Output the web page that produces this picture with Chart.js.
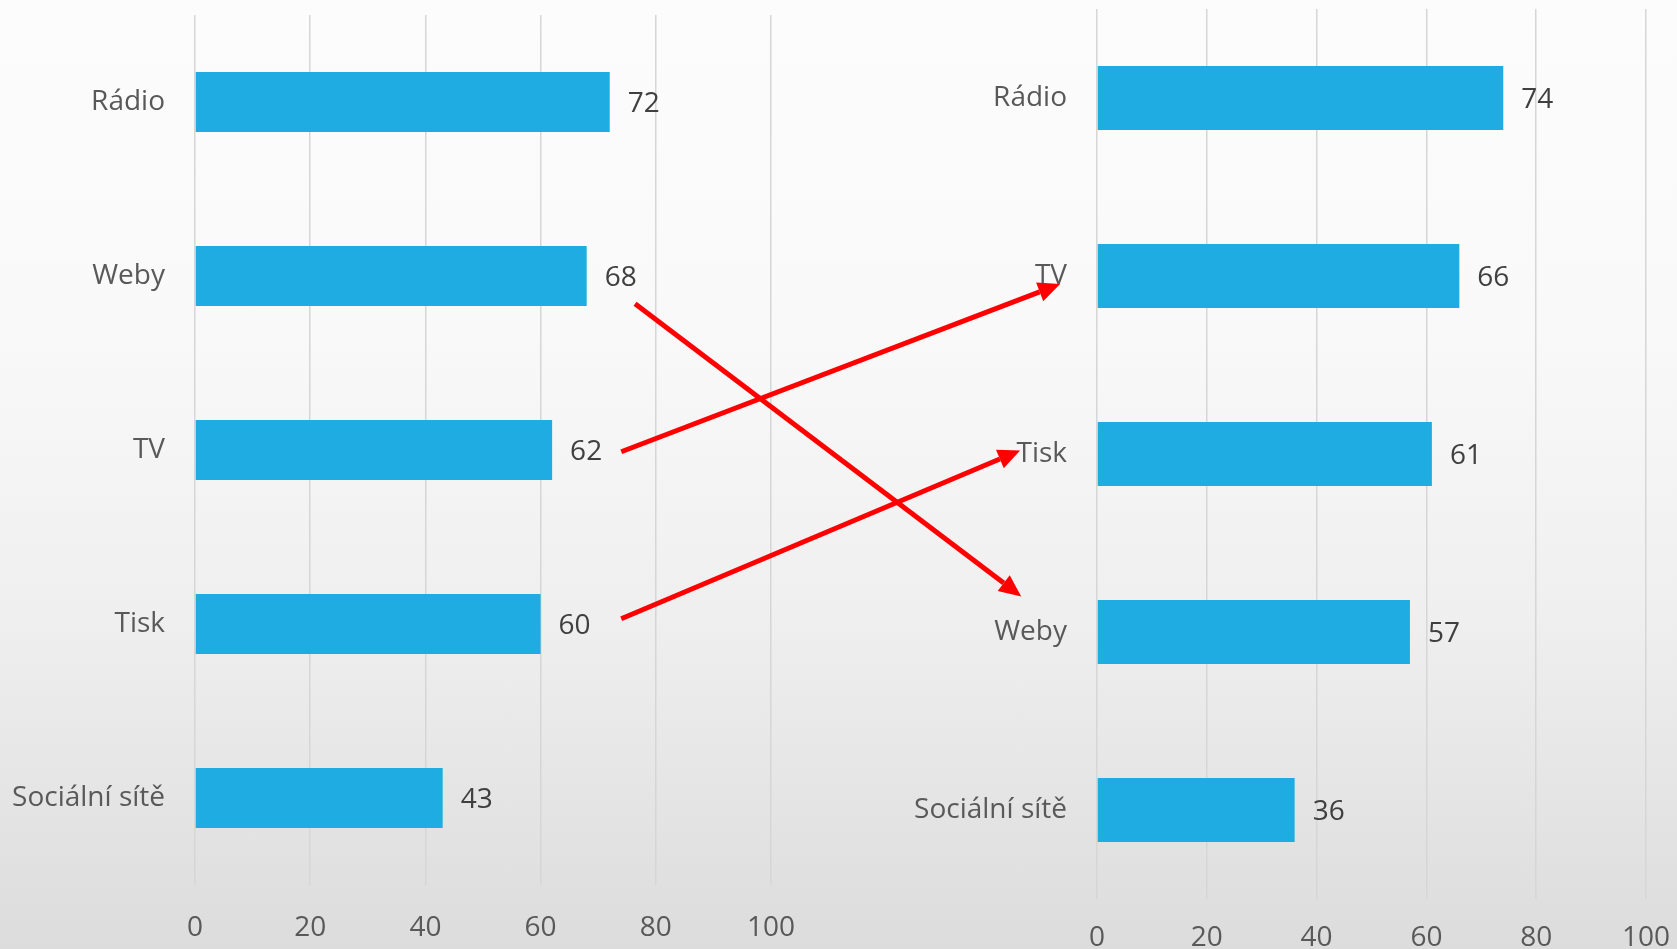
<!DOCTYPE html>
<html>
<head>
<meta charset="utf-8">
<script src="https://cdn.jsdelivr.net/npm/chart.js@4.4.0/dist/chart.umd.min.js"></script>
<style>
    html, body { margin: 0; padding: 0; }
    body {
        width: 1677px; height: 949px; overflow: hidden; position: relative;
        background: linear-gradient(to bottom, #fcfcfc 0%, #f9f9f9 35%, #efefef 65%, #dcdcdc 100%);
    }
    .box { position: absolute; top: 0; height: 949px; }
    #leftBox { left: 0; width: 838px; }
    #rightBox { left: 838px; width: 839px; }
    #arrows { position: absolute; left: 0; top: 0; pointer-events: none; }
</style>
</head>
<body>
<div class="box" id="leftBox"><canvas id="leftChart"></canvas></div>
<div class="box" id="rightBox"><canvas id="rightChart"></canvas></div>
<canvas id="arrows" width="1677" height="949"></canvas>
<script>
// Data
const LEFT_LABELS = ['Rádio', 'Weby', 'TV', 'Tisk', 'Sociální sítě'];
const LEFT_VALUES = [72, 68, 62, 60, 43];
const RIGHT_LABELS = ['Rádio', 'TV', 'Tisk', 'Weby', 'Sociální sítě'];
const RIGHT_VALUES = [74, 66, 61, 57, 36];
const X_TICKS = [0, 20, 40, 60, 80, 100];
// Which category moved where (left chart -> right chart)
const ARROW_LINKS = ['Weby', 'TV', 'Tisk'];

const BAR_COLOR = '#1eace2';
const LABEL_COLOR = '#595959';
const VALUE_COLOR = '#404040';
const GRID_COLOR = '#d6d6d6';
const FONT = { family: "'Open Sans', 'Noto Sans', sans-serif", size: 28 };

// Hand-placed anchors of the red arrows (start in left chart units, end in right chart units)
const ARROW_ANCHORS = {
    Weby: { sx: 76.4, sdy: 0.16, ex: -13.8, edy: -0.2 },
    TV:   { sx: 74.0, sdy: 0.01, ex: -6.7,  edy: 0.045 },
    Tisk: { sx: 74.0, sdy: -0.03, ex: -14.0, edy: -0.02 },
};

// Draws the value next to the end of every bar
const valueLabels = {
    id: 'valueLabels',
    afterDatasetsDraw(chart) {
        const ctx = chart.ctx;
        const meta = chart.getDatasetMeta(0);
        ctx.save();
        ctx.font = FONT.size + 'px ' + FONT.family;
        ctx.fillStyle = VALUE_COLOR;
        ctx.textAlign = 'left';
        ctx.textBaseline = 'middle';
        meta.data.forEach(function(bar, i) {
            ctx.fillText(String(chart.data.datasets[0].data[i]), bar.x + 18, bar.y + 2);
        });
        ctx.restore();
    }
};

function makeChart(id, labels, values, geo) {
    return new Chart(document.getElementById(id), {
        type: 'bar',
        data: {
            labels: labels,
            datasets: [{
                data: values,
                backgroundColor: BAR_COLOR,
                barPercentage: geo.bar,
                categoryPercentage: 1,
            }],
        },
        options: {
            indexAxis: 'y',
            responsive: true,
            maintainAspectRatio: false,
            animation: false,
            layout: { padding: { top: geo.top, right: geo.right, bottom: 0, left: 0 } },
            plugins: { legend: { display: false }, tooltip: { enabled: false } },
            scales: {
                x: {
                    min: 0,
                    max: 100,
                    afterBuildTicks: function(axis) {
                        axis.ticks = X_TICKS.map(function(v) { return { value: v }; });
                    },
                    afterFit: function(axis) {
                        axis.height = geo.bottom;
                        axis.paddingLeft = 0;
                        axis.paddingRight = 0;
                    },
                    ticks: { color: LABEL_COLOR, font: FONT, padding: geo.tickPad, maxRotation: 0 },
                    grid: { color: GRID_COLOR, lineWidth: 1.5, drawTicks: false },
                    border: { display: false },
                },
                y: {
                    afterFit: function(axis) {
                        axis.width = geo.left;
                        axis.paddingTop = 0;
                        axis.paddingBottom = 0;
                    },
                    ticks: { color: LABEL_COLOR, font: FONT, padding: 30 },
                    grid: { display: false, drawTicks: false },
                    border: { display: false },
                },
            },
        },
        plugins: [valueLabels],
    });
}

function drawArrow(ctx, x1, y1, x2, y2) {
    const head = 22, half = 10;
    const ang = Math.atan2(y2 - y1, x2 - x1);
    const bx = x2 - head * Math.cos(ang), by = y2 - head * Math.sin(ang);
    ctx.beginPath();
    ctx.moveTo(x1, y1);
    ctx.lineTo(bx, by);
    ctx.stroke();
    ctx.beginPath();
    ctx.moveTo(x2, y2);
    ctx.lineTo(bx + half * Math.sin(ang), by - half * Math.cos(ang));
    ctx.lineTo(bx - half * Math.sin(ang), by + half * Math.cos(ang));
    ctx.closePath();
    ctx.fill();
}

function drawArrows(left, right) {
    const ctx = document.getElementById('arrows').getContext('2d');
    const offR = document.getElementById('rightBox').offsetLeft;
    ctx.strokeStyle = '#ff0000';
    ctx.fillStyle = '#ff0000';
    ctx.lineWidth = 5;
    ctx.lineCap = 'butt';
    ARROW_LINKS.forEach(function(name) {
        const a = ARROW_ANCHORS[name];
        const li = LEFT_LABELS.indexOf(name);
        const ri = RIGHT_LABELS.indexOf(name);
        const x1 = left.scales.x.getPixelForValue(a.sx);
        const y1 = left.scales.y.getPixelForValue(li + a.sdy);
        const x2 = offR + right.scales.x.getPixelForValue(a.ex);
        const y2 = right.scales.y.getPixelForValue(ri + a.edy);
        drawArrow(ctx, x1, y1, x2, y2);
    });
}

const leftChart = makeChart('leftChart', LEFT_LABELS, LEFT_VALUES,
    { left: 195, right: 67, top: 15, bottom: 64, tickPad: 26, bar: 0.345 });
const rightChart = makeChart('rightChart', RIGHT_LABELS, RIGHT_VALUES,
    { left: 259, right: 31, top: 9, bottom: 50, tickPad: 22, bar: 0.36 });
drawArrows(leftChart, rightChart);
</script>
</body>
</html>
